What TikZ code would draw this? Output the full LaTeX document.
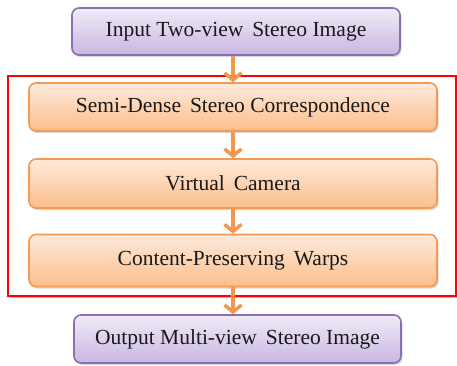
\documentclass[tikz,border=0pt]{standalone}
\usepackage{fontspec}
\setmainfont{Liberation Serif}
\usetikzlibrary{arrows.meta,shadows}
\definecolor{pborder}{HTML}{8A70AE}
\definecolor{ptop}{HTML}{F0EBF7}
\definecolor{pbot}{HTML}{C9B6E2}
\definecolor{oborder}{HTML}{F59A55}
\definecolor{otop}{HTML}{FEEADB}
\definecolor{obot}{HTML}{FBBE8C}
\definecolor{oarrow}{HTML}{F4974E}
\tikzset{
  purplebox/.style={draw=pborder, line width=1.6pt, rounded corners=7pt,
    top color=ptop, bottom color=pbot, inner sep=0pt,
    drop shadow={shadow xshift=1.5pt, shadow yshift=-2pt, opacity=0.25, fill=black!60},
    font=\fontsize{21.5}{25}\selectfont, text=black!90},
  orangebox/.style={draw=oborder, line width=1.6pt, rounded corners=7pt,
    top color=otop, bottom color=obot, inner sep=0pt,
    drop shadow={shadow xshift=1.5pt, shadow yshift=-2pt, opacity=0.25, fill=black!60},
    font=\fontsize{21.5}{25}\selectfont, text=black!90},
  flowarrow/.style={draw=oarrow, line width=3.5pt,
    -{Straight Barb[length=7pt,width=17pt]}},
  redframe/.style={draw=red, line width=1.6pt}
}
\begin{document}
\begin{tikzpicture}[x=1pt,y=-1pt]
\useasboundingbox (0,0) rectangle (457,365);
\fill[black!25] (10,78) rectangle (458,298);
\fill[white] (8,76) rectangle (456,296);
\draw[redframe] (8,76) rectangle (456,296);
\node[purplebox, minimum width=328pt, minimum height=47pt] (in) at (236,31.5) {Input Two-view\, Stereo Image};
\node[orangebox, minimum width=408pt, minimum height=48pt] (s1) at (233,107) {Semi-Dense\, Stereo Correspondence};
\node[orangebox, minimum width=408pt, minimum height=49pt] (s2) at (233,183.5) {Virtual\, Camera};
\node[orangebox, minimum width=408pt, minimum height=52pt] (s3) at (233,260.5) {Content-Preserving\, Warps};
\node[purplebox, minimum width=327pt, minimum height=48pt] (out) at (237.5,339) {Output Multi-view\, Stereo Image};
\draw[flowarrow] (in.south -| s1.north) -- (s1.north);
\draw[flowarrow] (s1.south) -- (s2.north);
\draw[flowarrow] (s2.south) -- (s3.north);
\draw[flowarrow] (s3.south) -- (s3.south |- out.north);
\end{tikzpicture}
\end{document}
